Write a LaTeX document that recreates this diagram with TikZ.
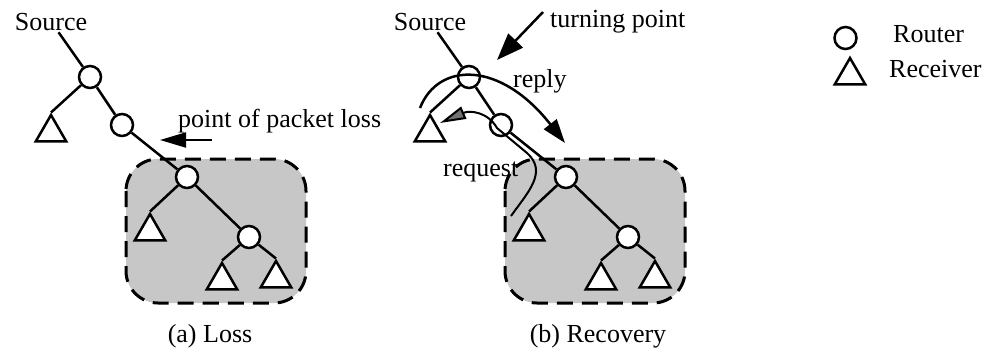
\documentclass[tikz,border=0pt]{standalone}
\usepackage{fontspec}
\setmainfont{Liberation Serif}
\usetikzlibrary{shapes.geometric,arrows.meta,backgrounds}
\begin{document}
\begin{tikzpicture}[x=1pt,y=-1pt,
  router/.style={circle, draw, fill=white, line width=2.5pt, minimum size=22pt, inner sep=0pt},
  receiver/.style={regular polygon, regular polygon sides=3, draw, fill=white, line width=2.5pt, minimum size=35pt, inner sep=0pt},
  link/.style={line width=2.5pt},
  region/.style={draw, line width=3pt, dash pattern=on 16pt off 9pt, fill=black!22, rounded corners=32pt},
  lbl/.style={font=\fontsize{26}{30}\selectfont, inner sep=0pt},
]
\useasboundingbox (0,0) rectangle (988,349);

% the same multicast tree in both panels
\foreach \s/\dx in {a/0,b/379}{
  \begin{scope}[xshift=\dx pt]
    \begin{pgfonlayer}{background}
      \draw[region] (126,159) rectangle (306,303);
    \end{pgfonlayer}
    \node[lbl, anchor=base, outer sep=2pt] (src\s) at (51,30) {Source};
    \node[router]   (r1\s) at (90,77)  {};
    \node[receiver] (t1\s) at (51,132.5) {};
    \node[router]   (r2\s) at (122,125) {};
    \node[router]   (r3\s) at (187,177) {};
    \node[receiver] (t2\s) at (150,231.5) {};
    \node[router]   (r4\s) at (249,237) {};
    \node[receiver] (t3\s) at (222,280.5) {};
    \node[receiver] (t4\s) at (276,278.5) {};
    \draw[link] (src\s) -- (r1\s);
    \draw[link] (r1\s) -- (t1\s.corner 1);
    \draw[link] (r1\s) -- (r2\s);
    \draw[link] (r2\s) -- (r3\s);
    \draw[link] (r3\s) -- (t2\s.corner 1);
    \draw[link] (r3\s) -- (r4\s);
    \draw[link] (r4\s) -- (t3\s.corner 1);
    \draw[link] (r4\s) -- (t4\s.corner 1);
  \end{scope}
}

% panel (a): loss
\node[lbl, anchor=base west] (lossL) at (178,127) {point of packet loss};
\coordinate (lossT) at (212,140);
\coordinate (lossH) at (160,140);
\draw[line width=2pt, -{Triangle[length=26pt,width=15pt]}] (lossT) -- (lossH);

% panel (b): recovery
\node[lbl, anchor=base west] (turnL) at (550,27) {turning point};
\coordinate (turnT) at (543,12);
\coordinate (turnH) at (497,60);
\draw[line width=2.5pt, -{Triangle[length=27pt,width=20pt]}] (turnT) -- (turnH);

\node[lbl, anchor=base west] (replyL) at (513,87) {reply};
\coordinate (repS) at (420,108);
\coordinate (repE) at (565,143);
\draw[line width=2.5pt, -{Triangle[length=24pt,width=16pt]}]
  (repS) .. controls (438,62) and (500,60) .. (repE);

\node[lbl, anchor=base west] (reqL) at (443,176) {request};
\coordinate (reqS) at (511,216);
\coordinate (reqE) at (440,123);
\draw[line width=2pt, -{Triangle[length=26pt,width=13pt,fill=black!55]}]
  (reqS) .. controls (528,192) and (548,172) .. (527,153) -- (497,128)
  .. controls (488,112) and (470,110) .. (reqE);

% captions
\node[lbl, anchor=base] (capA) at (210,342) {(a) Loss};
\node[lbl, anchor=base] (capB) at (598,342) {(b) Recovery};

% legend
\node[router]   (legR) at (845.5,38) {};
\node[lbl, anchor=base west] (legRt) at (893,42) {Router};
\node[receiver] (legT) at (850,75.5) {};
\node[lbl, anchor=base west] (legTt) at (889,77) {Receiver};
\end{tikzpicture}
\end{document}
